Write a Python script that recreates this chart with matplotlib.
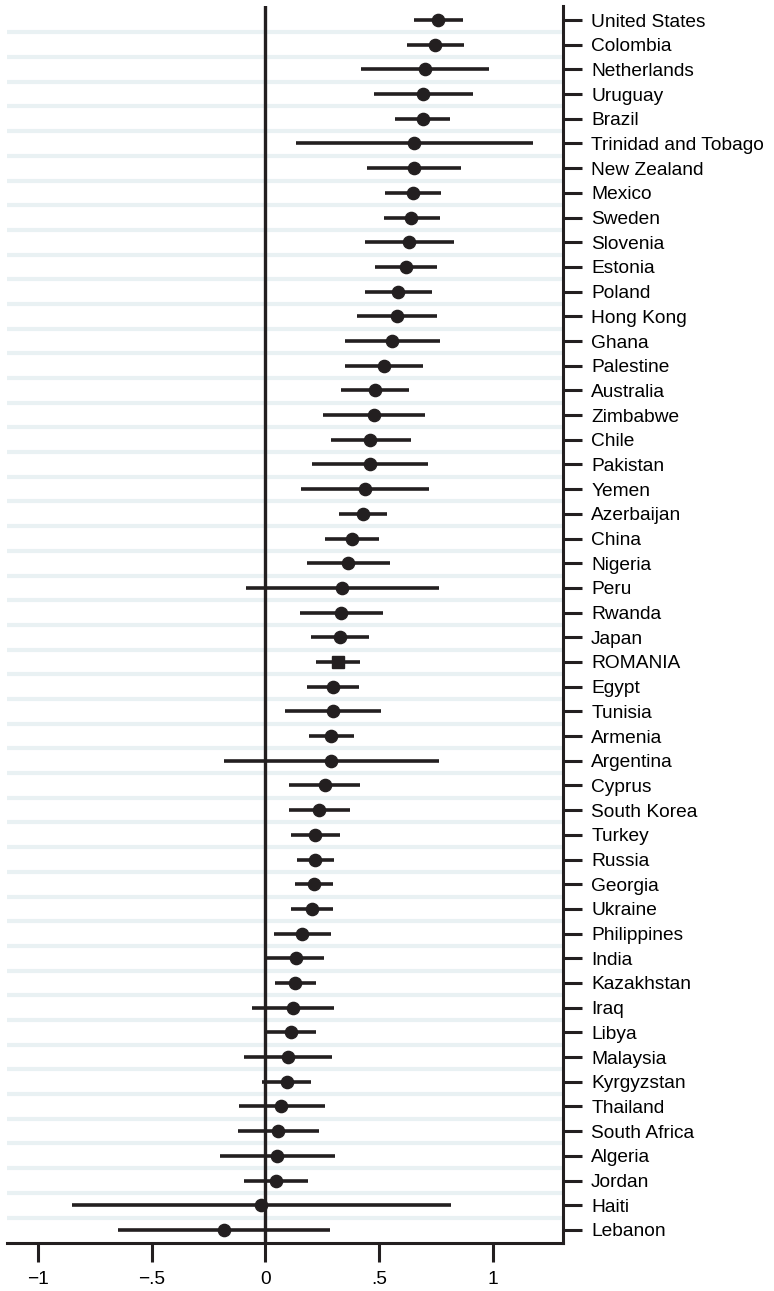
import matplotlib
matplotlib.use('Agg')
import matplotlib.pyplot as plt
import numpy as np

plt.rcParams['font.family'] = ['Liberation Sans', 'DejaVu Sans']

# Country estimates with confidence intervals (top to bottom)
countries = ['United States', 'Colombia', 'Netherlands', 'Uruguay', 'Brazil',
             'Trinidad and Tobago', 'New Zealand', 'Mexico', 'Sweden', 'Slovenia',
             'Estonia', 'Poland', 'Hong Kong', 'Ghana', 'Palestine', 'Australia',
             'Zimbabwe', 'Chile', 'Pakistan', 'Yemen', 'Azerbaijan', 'China',
             'Nigeria', 'Peru', 'Rwanda', 'Japan', 'ROMANIA', 'Egypt', 'Tunisia',
             'Armenia', 'Argentina', 'Cyprus', 'South Korea', 'Turkey', 'Russia',
             'Georgia', 'Ukraine', 'Philippines', 'India', 'Kazakhstan', 'Iraq',
             'Libya', 'Malaysia', 'Kyrgyzstan', 'Thailand', 'South Africa',
             'Algeria', 'Jordan', 'Haiti', 'Lebanon']

estimate = [0.758, 0.747, 0.703, 0.693, 0.691, 0.653, 0.652, 0.649, 0.641, 0.631,
            0.619, 0.583, 0.578, 0.556, 0.520, 0.480, 0.476, 0.461, 0.458, 0.436,
            0.429, 0.379, 0.365, 0.338, 0.334, 0.328, 0.318, 0.296, 0.296, 0.290,
            0.290, 0.261, 0.237, 0.220, 0.217, 0.214, 0.204, 0.161, 0.133, 0.130,
            0.120, 0.114, 0.100, 0.094, 0.070, 0.056, 0.050, 0.045, -0.020, -0.183]

ci_low = [0.653, 0.624, 0.422, 0.476, 0.571, 0.133, 0.445, 0.524, 0.520, 0.436,
          0.483, 0.436, 0.404, 0.348, 0.348, 0.331, 0.253, 0.287, 0.205, 0.155,
          0.324, 0.261, 0.182, -0.086, 0.152, 0.199, 0.221, 0.183, 0.088, 0.192,
          -0.183, 0.104, 0.105, 0.114, 0.138, 0.130, 0.113, 0.038, 0.004, 0.041,
          -0.059, 0.004, -0.094, -0.013, -0.117, -0.120, -0.201, -0.094, -0.851, -0.646]

ci_high = [0.868, 0.871, 0.985, 0.912, 0.810, 1.176, 0.859, 0.773, 0.766, 0.830,
           0.754, 0.734, 0.755, 0.769, 0.695, 0.633, 0.703, 0.638, 0.716, 0.719,
           0.536, 0.499, 0.549, 0.763, 0.515, 0.457, 0.414, 0.411, 0.507, 0.389,
           0.763, 0.417, 0.370, 0.327, 0.300, 0.299, 0.296, 0.288, 0.258, 0.224,
           0.303, 0.221, 0.293, 0.202, 0.261, 0.234, 0.306, 0.186, 0.814, 0.284]

xticks = [-1, -0.5, 0, 0.5, 1]
xticklabels = ['\u22121', '\u2212.5', '0', '.5', '1']

dark = '#231f20'
grid_col = '#e9f1f3'

n = len(countries)
ypos = np.arange(n, 0, -1)

fig = plt.figure(figsize=(7.74, 12.91), dpi=100)
ax = fig.add_axes([0.009, 0.0372, 0.718, 0.9582])

# light separators between rows
for yy in np.arange(1.5, n, 1.0):
    ax.axhline(yy, color=grid_col, lw=3.0, zorder=0)

ax.axvline(0, color=dark, lw=2.4, zorder=1)

ax.hlines(ypos, ci_low, ci_high, color=dark, lw=2.6, zorder=2)
is_ro = np.array([c == 'ROMANIA' for c in countries])
est = np.array(estimate)
ax.plot(est[~is_ro], ypos[~is_ro], 'o', color=dark, ms=8.8, zorder=3)
ax.plot(est[is_ro], ypos[is_ro], 's', color=dark, ms=8.6, zorder=3)

ax.set_xlim(-1.136, 1.307)
ax.set_ylim(0.47, n + 0.57)

ax.spines['left'].set_visible(False)
ax.spines['top'].set_visible(False)
ax.spines['right'].set_linewidth(2.2)
ax.spines['bottom'].set_linewidth(2.2)
ax.spines['right'].set_color(dark)
ax.spines['bottom'].set_color(dark)

ax.yaxis.tick_right()
ax.set_yticks(ypos)
ax.set_yticklabels(countries)
ax.set_xticks(xticks)
ax.set_xticklabels(xticklabels)
ax.tick_params(axis='y', length=13.5, width=2.2, pad=7, labelsize=13.8, color=dark)
ax.tick_params(axis='x', length=13.5, width=2.2, pad=7, labelsize=13.8, color=dark)

fig.savefig('out.png', dpi=100)
